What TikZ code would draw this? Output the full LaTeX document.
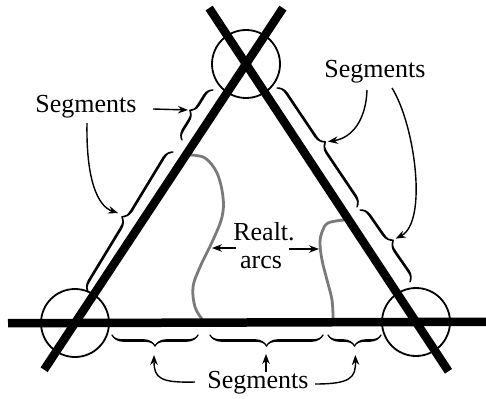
\documentclass[tikz,border=0pt]{standalone}
\usepackage{fontspec}
\setmainfont{Liberation Serif}
\usetikzlibrary{arrows.meta,decorations.pathreplacing,calligraphy}
\begin{document}
\begin{tikzpicture}[x=1pt,y=-1pt,
  bar/.style={line width=8.5pt},
  vtx/.style={circle,draw,line width=1.8pt,minimum size=68pt,inner sep=0pt},
  brc/.style={decorate,decoration={calligraphic brace,amplitude=#1},line width=2.6pt,pen colour={black}},
  brc/.default=10pt,
  arr/.style={line width=1.4pt,-{Stealth[length=10pt,width=7.5pt]}},
  realarc/.style={line width=2.8pt,draw=black!52},
  lbl/.style={font=\fontsize{26}{28}\selectfont,inner sep=0pt,anchor=base}]
\useasboundingbox (0,0) rectangle (486,398);

% vertices
\node[vtx] (vA) at (75,323) {};
\node[vtx] (vB) at (246,64) {};
\node[vtx] (vC) at (416,322) {};

% realt. arcs
\draw[realarc] plot[smooth,tension=0.6] coordinates {(190,155) (205,158) (217,173) (223,197) (222,217) (213,240) (200,267) (193,287) (195,307) (202,319)};
\draw[realarc] plot[smooth,tension=0.6] coordinates {(344,220) (328,223) (322,232) (320,243) (322,260) (327,280) (332,300) (333,319)};

% thick lines
\draw[bar,shorten <=-56pt,shorten >=-67pt] (vA.center) -- (vB.center);
\draw[bar,shorten <=-59pt,shorten >=-67pt] (vC.center) -- (vB.center);
\draw[bar,shorten <=-67pt,shorten >=-70pt] (vA.center) -- (vC.center);

% braces
\draw[brc=9pt] (182,140) -- (213,90);
\draw[brc] (88,292) -- (173,152);
\draw[brc] (277,88) -- (357,207);
\draw[brc] (360,210) -- (410,282);
\draw[brc=11pt] (198,335) -- (112,335);
\draw[brc=11pt] (323,335) -- (210,335);
\draw[brc=11pt] (381,335) -- (328,335);

% brace tips
\coordinate (t1) at (189,110);
\coordinate (t2) at (121,214);
\coordinate (t3) at (325,142);
\coordinate (t4) at (393,240);
\coordinate (t5) at (154,347);
\coordinate (t6) at (266,347);
\coordinate (t7) at (355,347);

% labels
\node[lbl] (segTL) at (86,113) {Segments};
\node[lbl] (segTR) at (375,78) {Segments};
\node[lbl] (segB) at (258,388) {Segments};
\node[lbl] (realt) at (264,240) {Realt.};
\node[lbl] (arcs) at (261,268) {arcs};

% arrow starts
\coordinate (s1) at (153,109);
\coordinate (s2) at (87,123);
\coordinate (s3) at (367,90);
\coordinate (s4) at (392,88);
\coordinate (s5) at (195,382);
\coordinate (s6) at (266,372);
\coordinate (s7) at (315,384);
\coordinate (rl) at (236,248);
\coordinate (rle) at (212,248);
\coordinate (rr) at (289,249);
\coordinate (rre) at (319,249);

% arrows
\draw[arr,shorten >=1pt] (s1) -- (t1);
\draw[arr,shorten >=3pt] (s2) .. controls (86,178) and (97,206) .. (t2);
\draw[arr,shorten >=3pt] (s3) .. controls (366,120) and (352,138) .. (t3);
\draw[arr,shorten >=3pt] (s4) .. controls (415,125) and (428,222) .. (t4);
\draw[arr,shorten >=8pt] (s5) .. controls (160,383) and (154,378) .. (t5);
\draw[arr,shorten >=7pt] (s6) -- (t6);
\draw[arr,shorten >=8pt] (s7) .. controls (350,384) and (356,378) .. (t7);
\draw[arr] (rl) -- (rle);
\draw[arr] (rr) -- (rre);
\end{tikzpicture}
\end{document}
